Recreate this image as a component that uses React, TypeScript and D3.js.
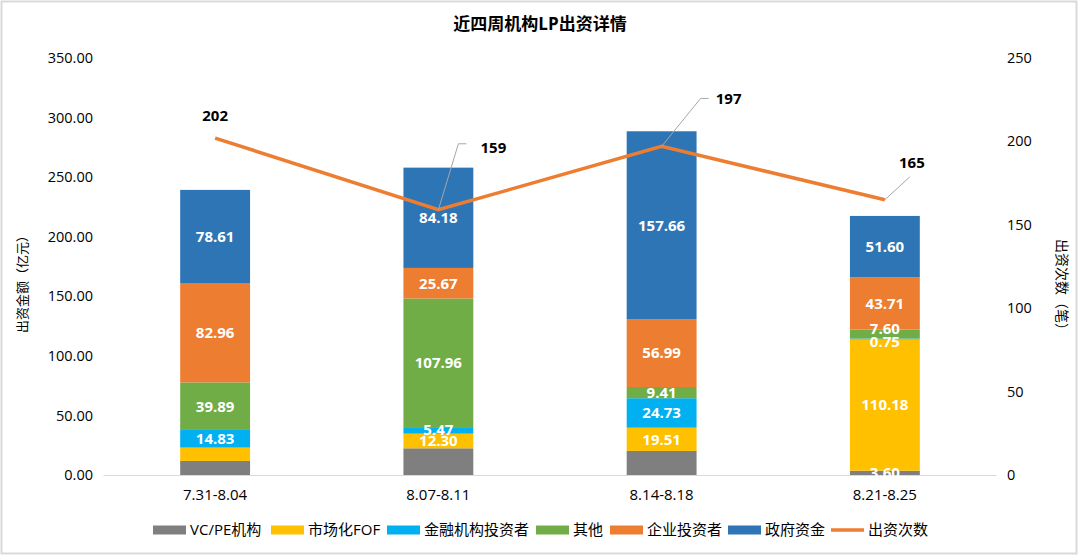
import React from "react";
import * as d3 from "d3";

const categories = ["7.31-8.04", "8.07-8.11", "8.14-8.18", "8.21-8.25"];
const seriesNames = ["VC/PE机构", "市场化FOF", "金融机构投资者", "其他", "企业投资者", "政府资金"];
const vcpe = [11.8, 22.4, 20.2, 3.6];
const fof = [11.2, 12.3, 19.51, 110.18];
const finance = [14.83, 5.47, 24.73, 0.75];
const other = [39.89, 107.96, 9.41, 7.6];
const corp = [82.96, 25.67, 56.99, 43.71];
const gov = [78.61, 84.18, 157.66, 51.6];
const counts = [202, 159, 197, 165];
const leftTicks = [0, 50, 100, 150, 200, 250, 300, 350];
const rightTicks = [0, 50, 100, 150, 200, 250];
const showLabel = [
  [false, false, false, true],
  [false, true, true, true],
  [true, true, true, true],
  [true, true, true, true],
  [true, true, true, true],
  [true, true, true, true],
];
// small vertical nudges so crowded labels sit like the original
const labelNudge = [
  [0, 0, 0, 0],
  [0, 0, 0, 0],
  [0, -1, 0, 3],
  [0, 0, 0, -5],
  [0, 0, 0, 0],
  [0, 0, 0, 0],
];

const colors = ["#7F7F7F", "#FFC000", "#00B0F0", "#70AD47", "#ED7D31", "#2E75B6"];
const lineColor = "#ED7D31";
const font = "'Open Sans', 'Noto Sans CJK SC', sans-serif";

export default function App() {
  const W = 1080, H = 557;
  const x0 = 103.5, x1 = 996.5, yTop = 58, yBottom = 475;

  const x = d3.scaleBand().domain(categories).range([x0, x1]).paddingInner(0.687).paddingOuter(0.3435);
  const yL = d3.scaleLinear().domain([0, 350]).range([yBottom, yTop]);
  const yR = d3.scaleLinear().domain([0, 250]).range([yBottom, yTop]);

  const seriesValues = [vcpe, fof, finance, other, corp, gov];
  const rows = categories.map((c, i) => {
    const r: any = { cat: c };
    seriesNames.forEach((s, k) => (r[s] = seriesValues[k][i]));
    return r;
  });
  const stacked = d3.stack().keys(seriesNames)(rows);

  const cx = (c: string) => (x(c) as number) + x.bandwidth() / 2;
  const line = d3.line<number>().x((_, i) => cx(categories[i])).y((d) => yR(d));

  // leader lines for the count labels (first one sits straight above)
  const leaders = [
    null,
    { dx: 20, dy: -66, h: 8, tx: 55, ty: -62 },
    { dx: 39, dy: -48, h: 8, tx: 67, ty: -48 },
    { dx: 25, dy: -23, h: 0, tx: 27, ty: -37 },
  ];

  const legendItems = [...seriesNames, "出资次数"];
  const legendX = [153, 271, 387, 536, 610, 728, 831];

  return (
    <svg width={W} height={H} style={{ position: "absolute", left: 0, top: 0 }} fontFamily={font}>
      <rect x={0} y={0} width={W} height={H} fill="#fff" />
      <rect x={1.5} y={1.5} width={1075} height={552} fill="none" stroke="#d9d9d9" strokeWidth={2} />
      <text x={540} y={30} textAnchor="middle" fontSize={17} fontWeight="bold" fill="#000">
        近四周机构LP出资详情
      </text>

      {leftTicks.map((t) => (
        <text key={"l" + t} x={93} y={yL(t)} dy="0.35em" textAnchor="end" fontSize={14.5} fill="#000">
          {t.toFixed(2)}
        </text>
      ))}
      {rightTicks.map((t) => (
        <text key={"r" + t} x={1007} y={yR(t)} dy="0.35em" textAnchor="start" fontSize={14.5} fill="#000">
          {t}
        </text>
      ))}
      <text transform={`translate(27,281) rotate(-90)`} textAnchor="middle" fontSize={13} fill="#000">
        出资金额（亿元）
      </text>
      <text transform={`translate(1057,288) rotate(90)`} textAnchor="middle" fontSize={14} fill="#000">
        出资次数（笔）
      </text>

      {stacked.map((layer, k) => (
        <g key={layer.key}>
          {layer.map((d, i) => (
            <rect
              key={i}
              x={x(categories[i])}
              width={x.bandwidth()}
              y={yL(d[1])}
              height={yL(d[0]) - yL(d[1])}
              fill={colors[k]}
            />
          ))}
        </g>
      ))}
      <line x1={x0} x2={x1} y1={yBottom + 0.5} y2={yBottom + 0.5} stroke="#d9d9d9" strokeWidth={1} />

      {categories.map((c) => (
        <text key={c} x={cx(c)} y={500} textAnchor="middle" fontSize={15} fill="#000">
          {c}
        </text>
      ))}

      <path d={line(counts) || ""} fill="none" stroke={lineColor} strokeWidth={3.5} />

      {stacked.map((layer, k) =>
        layer.map((d, i) =>
          showLabel[k][i] ? (
            <text
              key={k + "-" + i}
              x={cx(categories[i])}
              y={(yL(d[0]) + yL(d[1])) / 2 + labelNudge[k][i]}
              dy="0.36em"
              textAnchor="middle"
              fontSize={15}
              fontWeight="bold"
              fill="#fff"
            >
              {seriesValues[k][i].toFixed(2)}
            </text>
          ) : null
        )
      )}

      {counts.map((v, i) => {
        const px = cx(categories[i]);
        const py = yR(v);
        const L = leaders[i];
        if (!L) {
          return (
            <text key={"c" + i} x={px} y={py - 17} textAnchor="middle" fontSize={15} fontWeight="bold" fill="#000">
              {v}
            </text>
          );
        }
        return (
          <g key={"c" + i}>
            <polyline
              points={`${px},${py} ${px + L.dx},${py + L.dy} ${px + L.dx + L.h},${py + L.dy}`}
              fill="none"
              stroke="#a6a6a6"
              strokeWidth={1}
            />
            <text x={px + L.tx} y={py + L.ty} dy="0.35em" textAnchor="middle" fontSize={15} fontWeight="bold" fill="#000">
              {v}
            </text>
          </g>
        );
      })}

      {legendItems.map((name, k) => (
        <g key={name} transform={`translate(${legendX[k]},530)`}>
          {k < 6 ? (
            <rect x={0} y={-4.5} width={33} height={9} fill={colors[k]} />
          ) : (
            <line x1={0} x2={33} y1={0} y2={0} stroke={lineColor} strokeWidth={3.5} />
          )}
          <text x={37} y={0} dy="0.36em" fontSize={15} fill="#000">
            {name}
          </text>
        </g>
      ))}
    </svg>
  );
}
